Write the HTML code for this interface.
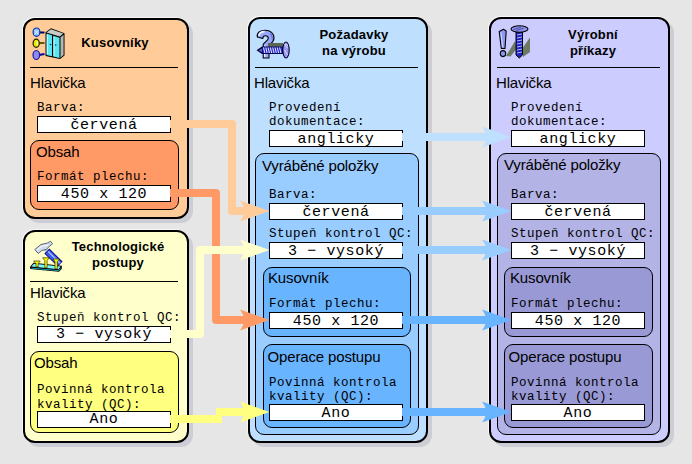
<!DOCTYPE html>
<html><head><meta charset="utf-8">
<style>
html,body{margin:0;padding:0;}
body{width:692px;height:464px;background:#e6e6e6;position:relative;overflow:hidden;font-family:"Liberation Sans",sans-serif;color:#000;}
div{position:absolute;box-sizing:border-box;}
.box{border:2px solid #000;border-radius:12px;box-shadow:-1px -1px 0 #f6f6f6,4px 4px 0 #cdcdd6;}
.sub{border:1px solid #000;border-radius:9px;}
.sep{height:1px;background:#000;}
.ttl{font-weight:bold;font-size:13px;line-height:16px;letter-spacing:0.2px;text-align:center;white-space:nowrap;}
.lbl{font-size:15px;letter-spacing:-0.15px;line-height:17px;white-space:nowrap;}
.mono{font-family:"Liberation Mono",monospace;font-size:12.5px;letter-spacing:0.5px;line-height:14px;white-space:pre;}
.inp{border:1px solid #000;background:#fff;font-family:"Liberation Mono",monospace;font-size:15px;letter-spacing:0.6px;line-height:17px;text-align:center;white-space:pre;}
svg{position:absolute;left:0;top:0;}
</style></head><body>

<!-- Box 1 Kusovniky -->
<div class="box" style="left:23px;top:18px;width:166px;height:201px;background:#ffcc99;"></div>
<div class="ttl" style="left:70px;top:35px;width:90px;">Kusovníky</div>
<div class="sep" style="left:30px;top:67px;width:148px;"></div>
<div class="lbl" style="left:30px;top:74px;">Hlavička</div>
<div class="mono" style="left:37px;top:101px;">Barva:</div>
<div class="inp" style="left:37px;top:116px;width:134px;height:17px;">červená</div>
<div class="sub" style="left:30px;top:140px;width:149px;height:70px;background:#ff9966;"></div>
<div class="lbl" style="left:36px;top:143px;">Obsah</div>
<div class="mono" style="left:37px;top:170px;">Formát plechu:</div>
<div class="inp" style="left:37px;top:185px;width:134px;height:17px;">450 x 120</div>

<!-- Box 2 Technologicke postupy -->
<div class="box" style="left:23px;top:230px;width:166px;height:213px;background:#ffffcc;"></div>
<div class="ttl" style="left:68px;top:239px;width:100px;">Technologické<br>postupy</div>
<div class="sep" style="left:30px;top:281px;width:148px;"></div>
<div class="lbl" style="left:30px;top:284px;">Hlavička</div>
<div class="mono" style="left:37px;top:311px;">Stupeň kontrol QC:</div>
<div class="inp" style="left:37px;top:326px;width:134px;height:17px;line-height:15px;">3 − vysoký</div>
<div class="sub" style="left:30px;top:351px;width:149px;height:82px;background:#ffff80;"></div>
<div class="lbl" style="left:34px;top:354px;">Obsah</div>
<div class="mono" style="left:37px;top:383px;line-height:15px;">Povinná kontrola
kvality (QC):</div>
<div class="inp" style="left:37px;top:411px;width:134px;height:17px;line-height:15px;">Ano</div>

<!-- Box 3 Pozadavky na vyrobu -->
<div class="box" style="left:248px;top:17px;width:180px;height:426px;background:#bfdfff;"></div>
<div class="ttl" style="left:304px;top:27px;width:100px;">Požadavky<br>na výrobu</div>
<div class="sep" style="left:255px;top:67px;width:163px;"></div>
<div class="lbl" style="left:254px;top:74px;">Hlavička</div>
<div class="mono" style="left:269px;top:101px;">Provedení
dokumentace:</div>
<div class="inp" style="left:269px;top:130px;width:134px;height:17px;">anglicky</div>
<div class="sub" style="left:255px;top:153px;width:164px;height:282px;background:#99ccff;"></div>
<div class="lbl" style="left:262px;top:157px;">Vyráběné položky</div>
<div class="mono" style="left:269px;top:188px;">Barva:</div>
<div class="inp" style="left:269px;top:203px;width:134px;height:17px;">červená</div>
<div class="mono" style="left:269px;top:227px;">Stupeň kontrol QC:</div>
<div class="inp" style="left:269px;top:242px;width:134px;height:17px;">3 − vysoký</div>
<div class="sub" style="left:263px;top:267px;width:148px;height:70px;background:#69b4ff;"></div>
<div class="lbl" style="left:268px;top:269px;">Kusovník</div>
<div class="mono" style="left:269px;top:297px;">Formát plechu:</div>
<div class="inp" style="left:269px;top:312px;width:134px;height:17px;">450 x 120</div>
<div class="sub" style="left:263px;top:344px;width:148px;height:84px;background:#69b4ff;"></div>
<div class="lbl" style="left:267.5px;top:348px;">Operace postupu</div>
<div class="mono" style="left:269px;top:376px;">Povinná kontrola
kvality (QC):</div>
<div class="inp" style="left:269px;top:404px;width:134px;height:17px;">Ano</div>

<!-- Box 4 Vyrobni prikazy -->
<div class="box" style="left:489px;top:17px;width:181px;height:426px;background:#ccccff;"></div>
<div class="ttl" style="left:543px;top:27px;width:100px;">Výrobní<br>příkazy</div>
<div class="sep" style="left:497px;top:67px;width:163px;"></div>
<div class="lbl" style="left:496px;top:74px;">Hlavička</div>
<div class="mono" style="left:511px;top:101px;">Provedení
dokumentace:</div>
<div class="inp" style="left:511px;top:130px;width:134px;height:17px;">anglicky</div>
<div class="sub" style="left:497px;top:153px;width:164px;height:282px;background:#b3b3e6;"></div>
<div class="lbl" style="left:504px;top:156px;">Vyráběné položky</div>
<div class="mono" style="left:511px;top:188px;">Barva:</div>
<div class="inp" style="left:511px;top:203px;width:134px;height:17px;">červená</div>
<div class="mono" style="left:511px;top:227px;">Stupeň kontrol QC:</div>
<div class="inp" style="left:511px;top:242px;width:134px;height:17px;">3 − vysoký</div>
<div class="sub" style="left:504px;top:267px;width:149px;height:70px;background:#9999d6;"></div>
<div class="lbl" style="left:510px;top:269px;">Kusovník</div>
<div class="mono" style="left:511px;top:297px;">Formát plechu:</div>
<div class="inp" style="left:511px;top:312px;width:134px;height:17px;">450 x 120</div>
<div class="sub" style="left:504px;top:344px;width:149px;height:84px;background:#9999d6;"></div>
<div class="lbl" style="left:508.5px;top:348px;">Operace postupu</div>
<div class="mono" style="left:511px;top:376px;">Povinná kontrola
kvality (QC):</div>
<div class="inp" style="left:511px;top:404px;width:134px;height:17px;">Ano</div>


<!-- Icons -->
<svg width="692" height="464" viewBox="0 0 692 464" style="z-index:1">
<!-- icon1: balls + cabinet -->
<g stroke-linejoin="round">
 <line x1="39.5" y1="32.5" x2="44.5" y2="32.5" stroke="#00005a" stroke-width="2"/>
 <line x1="39" y1="43" x2="44.5" y2="43" stroke="#5a5a00" stroke-width="2"/>
 <line x1="39" y1="55" x2="44.5" y2="54" stroke="#00009a" stroke-width="2"/>
 <ellipse cx="36.5" cy="32.2" rx="3.4" ry="4.2" fill="#8fc2ff" stroke="#0030b0" stroke-width="1.2"/>
 <path d="M34.5 30L38.5 34.5M38.5 30L34.5 34.5" stroke="#e8f4ff" stroke-width="0.9"/>
 <ellipse cx="36.2" cy="43.3" rx="3.1" ry="4.1" fill="#e8e800" stroke="#202000" stroke-width="1.2"/>
 <ellipse cx="37.2" cy="43" rx="0.8" ry="2.2" fill="#ffffa0"/>
 <ellipse cx="36.3" cy="55" rx="3.3" ry="4.5" fill="#8a8af0" stroke="#1a1aa0" stroke-width="1.2"/>
 <path d="M45.5 32.2L51 28.2L64.5 33.2L64.5 55.5L60 59L45.5 56Z" fill="#000"/>
 <path d="M46.5 32.4L51 29.3L63.3 33.6L59.7 36.6Z" fill="#c8ccc8"/>
 <path d="M60.5 37.3L63.6 34.8L63.6 55L60.5 57.8Z" fill="#b0b8b0"/>
 <path d="M46.5 33.4L52 35.3L52 56.2L46.5 55Z" fill="#5ae6f0"/>
 <path d="M53.2 35.7L59.5 37.7L59.5 58L53.2 56.6Z" fill="#5ae6f0"/>
 <path d="M47.3 34.5L47.3 54" stroke="#e8ffff" stroke-width="0.8"/>
 <path d="M54 36.8L54 56" stroke="#e8ffff" stroke-width="0.8"/>
 <circle cx="50.5" cy="44.5" r="0.8" fill="#003080"/>
 <circle cx="55.7" cy="45" r="0.8" fill="#003080"/>
</g>
<!-- icon2: hammer + nails -->
<g stroke-linejoin="round">
 <path d="M30 266.8L33.5 262.8L61.8 265.8L61.8 268.8L59 271.8L30.2 269Z" fill="#000"/>
 <path d="M31.3 266.6L34 263.8L60.6 266.5L58.6 269.3Z" fill="#7ff6ff"/>
 <path d="M31.3 267.8L58.6 270.3L60.6 268L60.6 269L58.6 271L31.3 268.6Z" fill="#18c0d0"/>
 <path d="M44.4 253.6L49.4 248.6L62.6 261.6L57.7 266.6Z" fill="#000080"/>
 <path d="M45.6 253.6L49.4 249.8L61.4 261.7L57.6 265.4Z" fill="#3c5cf0"/>
 <path d="M48.2 251.5L60 263.2" stroke="#a8b8ff" stroke-width="1.4"/>
 <path d="M40 246L43 244L48 249.5L45.5 252Z" fill="#a8c8e0"/>
 <path d="M34.8 249.5L40.8 244.6L47.4 243L50.5 241.3L52.6 243.8L49.4 246.2L46.6 249.3L41.8 250.5L38.2 253.5Z" fill="#d0dcec" stroke="#505868" stroke-width="0.9"/>
 <path d="M37 250L41.5 246.5L48 245" stroke="#ffffff" stroke-width="0.9" fill="none"/>
 <g fill="#ffff00" stroke="#303000" stroke-width="0.7">
  <path d="M33.6 261L40.2 261L38.2 263.6L38.2 266.8L36 266.8L36 263.6Z"/>
  <path d="M42.7 257.8L49.2 257.8L47.1 260.5L47.1 267.8L44.8 267.8L44.8 260.5Z"/>
  <path d="M52.9 259L59.4 259L57.3 261.6L57.3 268.8L55 268.8L55 261.6Z"/>
 </g>
</g>
<!-- icon3: question + screw -->
<g stroke-linejoin="round">
 <path d="M257.3 37C256.5 32 261 30.2 265 30.2C270.5 30.2 274 33.5 274 38C274 41.8 271 43.5 269 45.5L269 58L263.2 58L263.2 44.3C264.8 41.8 268.3 40.3 268.3 38.2C268.3 36.4 266.8 35.8 265.3 35.8C263.5 35.8 262.8 37 262.8 38.5Z" fill="#98a8ff" stroke="#000" stroke-width="1.1"/>
 <path d="M258.8 35.8C259.3 32.8 262 31.6 264.5 31.6" stroke="#f4f6ff" stroke-width="1.6" fill="none"/>
 <path d="M270 33.5C272 35 272.5 37.5 272 39.5" stroke="#7070e0" stroke-width="1.4" fill="none"/>
 <path d="M264.6 45.5L264.6 57" stroke="#f0f4ff" stroke-width="1.3"/>
 <path d="M268 43L283 43L283 46.8L268 46.8Z" fill="#5c6656"/>
 <path d="M256.5 50.2L262 46.5L283 46.5L283 54L262 54Z" fill="#000030"/>
 <path d="M262.5 47.3L282.3 47.3L282.3 53.2L262.5 53.2Z" fill="#2828d0"/>
 <g stroke="#e8ecff" stroke-width="1"><path d="M263.5 47.5L264.8 53M265.8 47.5L267.1 53M268.1 47.5L269.4 53M270.4 47.5L271.7 53M272.7 47.5L274 53M275 47.5L276.3 53M277.3 47.5L278.6 53M279.6 47.5L280.9 53"/></g>
 <path d="M258.5 50.2L262 48.5L262 52.2Z" fill="#6060d0"/>
 <ellipse cx="286" cy="50" rx="3.2" ry="8" fill="#9898f0" stroke="#000030" stroke-width="1.1"/>
 <path d="M284.5 44L287.5 48M284.5 50L287.5 55M286 43.5L288 46" stroke="#e0e4ff" stroke-width="0.9"/>
</g>
<!-- icon4: exclamation + screw -->
<g stroke-linejoin="round">
 <path d="M506 56L515 41L516.5 49L510.5 56.5Z" fill="#6c7a64"/>
 <path d="M522.5 48L530 37.5L530 52L523 57Z" fill="#6c7a64"/>
 <path d="M499.2 31.5L503.5 29.3L506.2 31L505 48.5L501.3 48.5Z" fill="#8c98f4" stroke="#000" stroke-width="1.1"/>
 <path d="M501 32.5L502.6 47" stroke="#c8d8ff" stroke-width="1.2"/>
 <ellipse cx="503" cy="53.6" rx="2.7" ry="3" fill="#8c98f4" stroke="#000" stroke-width="1.1"/>
 <path d="M516 32L522.5 32L522.5 55L519.3 58L516 55Z" fill="#2020c0" stroke="#000" stroke-width="1"/>
 <g stroke="#c0c8ff" stroke-width="0.9"><path d="M517 35L522 34M517 38L522 37M517 41L522 40M517 44L522 43M517 47L522 46M517 50L522 49M517 53L522 52"/></g>
 <ellipse cx="519.5" cy="29" rx="8.5" ry="3.2" fill="#8c90e8" stroke="#000" stroke-width="1.1"/>
 <path d="M513.5 29.5L521 27.2M516 30.5L523.5 28.2" stroke="#404090" stroke-width="0.8"/>
</g>
</svg>

<!-- Arrows -->
<svg width="692" height="464" viewBox="0 0 692 464">
<g fill="none" stroke-width="8" stroke-linejoin="round">
 <path d="M170 124H232V211H246" stroke="#ffcc99"/>
 <path d="M170 193H216V320H246" stroke="#ff9966"/>
 <path d="M170 334H200V250H246" stroke="#ffffcc"/>
 <path d="M170 419H222M216 412H246" stroke="#ffff80"/>
 <path d="M402 137H487" stroke="#bfdfff"/>
 <path d="M402 211H487" stroke="#99ccff"/>
 <path d="M402 250H487" stroke="#99ccff"/>
 <path d="M402 320H487" stroke="#69b4ff"/>
 <path d="M402 412H487" stroke="#69b4ff"/>
</g>
<defs><path id="ah" d="M0 -10.5L29.5 0L0 10.5Q4 5 4 0Q4 -5 0 -10.5Z"/></defs>
<use href="#ah" x="240" y="211" fill="#ffcc99"/>
<use href="#ah" x="240" y="320" fill="#ff9966"/>
<use href="#ah" x="240" y="250" fill="#ffffcc"/>
<use href="#ah" x="240" y="412" fill="#ffff80"/>
<use href="#ah" x="482" y="137" fill="#bfdfff"/>
<use href="#ah" x="482" y="211" fill="#99ccff"/>
<use href="#ah" x="482" y="250" fill="#99ccff"/>
<use href="#ah" x="482" y="320" fill="#69b4ff"/>
<use href="#ah" x="482" y="412" fill="#69b4ff"/>
</svg>

</body></html>
